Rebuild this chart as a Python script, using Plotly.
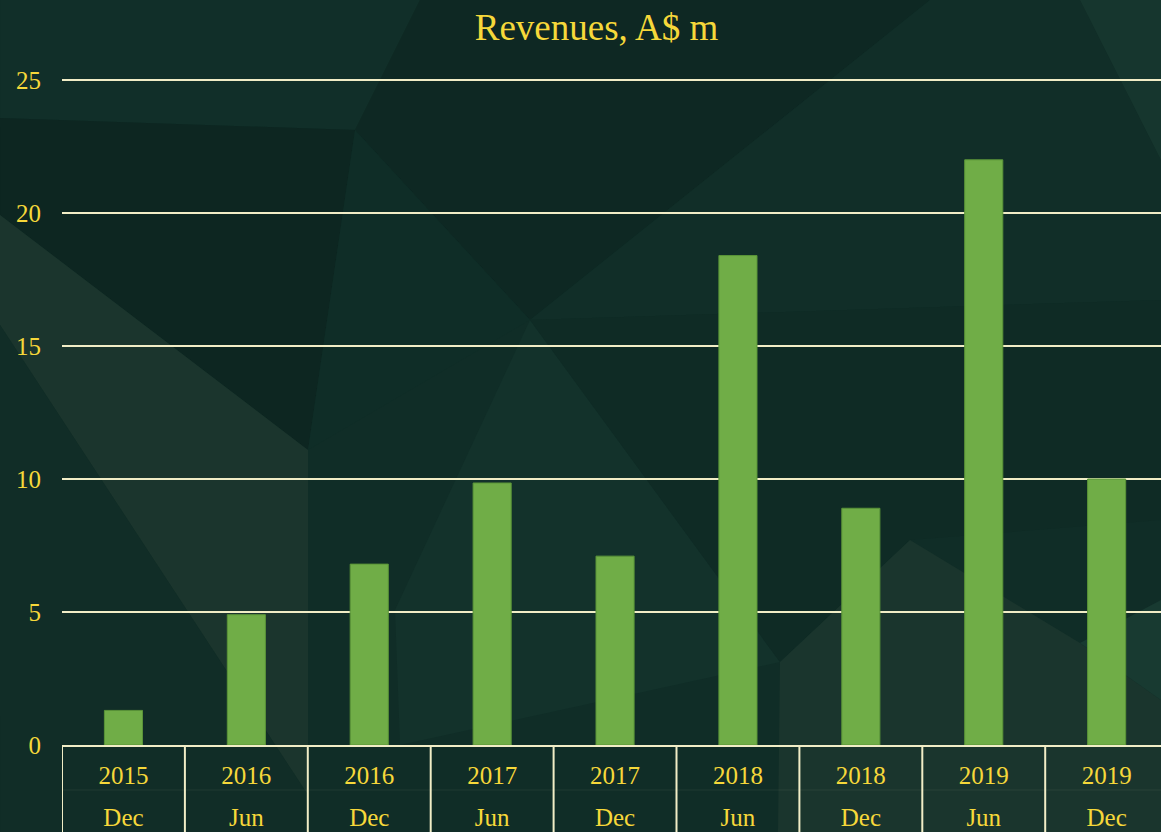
import plotly.graph_objects as go

# ---- data ----
years = ["2015", "2016", "2016", "2017", "2017", "2018", "2018", "2019", "2019"]
halves = ["Dec", "Jun", "Dec", "Jun", "Dec", "Jun", "Dec", "Jun", "Dec"]
revenues = [1.3, 4.9, 6.8, 9.85, 7.1, 18.4, 8.9, 22.0, 10.0]
y_ticks = [0, 5, 10, 15, 20, 25]
title_text = "Revenues, A$ m"
periods = [f"{h} {y}" for y, h in zip(years, halves)]

# ---- style ----
W, H = 1161, 832
PL, PR, PT, PB = 62, 1161, 75, 745      # plot-area pixel box
BASE = "#102D27"
GOLD = "#F6D83A"
CREAM = "#F1EDC6"
BAR = "#70AD47"
FONT = "Liberation Serif, DejaVu Serif, serif"

cat_w = 122.9
x_hi = -0.5 + (PR - PL) / cat_w
px_per_unit = 26.6
y_hi = (PB - PT) / px_per_unit


def to_paper(pts):
    return [((px - PL) / (PR - PL), (PB - py) / (PB - PT)) for px, py in pts]


def poly(pts, color):
    pp = to_paper(pts)
    path = "M " + " L ".join(f"{x:.5f},{y:.5f}" for x, y in pp) + " Z"
    return dict(type="path", path=path, xref="paper", yref="paper",
                fillcolor=color, line=dict(width=0), layer="below")


bg_polys = [
    ([(0, 0), (420, 0), (355, 130), (0, 118)], "#112F29"),
    ([(0, 118), (355, 130), (308, 450), (0, 215)], "#0D2621"),
    ([(420, 0), (930, 0), (530, 320), (355, 130)], "#0E2823"),
    ([(930, 0), (1080, 0), (1161, 160), (1161, 300), (530, 320)], "#112E28"),
    ([(0, 215), (308, 450), (308, 795), (0, 325)], "#1B352D"),
    ([(0, 325), (308, 795), (308, 832), (0, 832)], "#112D27"),
    ([(308, 450), (355, 130), (530, 320)], "#0F2D27"),
    ([(530, 320), (395, 610), (400, 745), (780, 662)], "#13322B"),
    ([(530, 320), (1161, 300), (1161, 520), (910, 540), (780, 662)], "#0F2B25"),
    ([(780, 662), (910, 540), (1080, 643), (1161, 700), (1161, 832), (778, 832)], "#1A352D"),
    ([(1080, 0), (1161, 0), (1161, 160)], "#16362E"),
    ([(1080, 643), (1161, 600), (1161, 700)], "#183A31"),
]
shapes = [poly(p, c) for p, c in bg_polys]

# category dividers in the label area
y_bottom = (PB - (H + 10)) / (PB - PT)
for k in range(len(periods) + 1):
    shapes.append(dict(type="line", xref="x", yref="paper",
                       x0=k - 0.5, x1=k - 0.5, y0=0, y1=y_bottom,
                       line=dict(color=CREAM, width=2), layer="above"))
# faint separator between label rows
sep_y = (PB - 790) / (PB - PT)
shapes.append(dict(type="line", xref="paper", yref="paper", x0=0, x1=1,
                   y0=sep_y, y1=sep_y,
                   line=dict(color="rgba(241,237,198,0.07)", width=1), layer="below"))

fig = go.Figure()
fig.add_trace(go.Bar(
    x=periods,
    y=revenues,
    marker=dict(color=BAR, line=dict(color="#5A9438", width=1)),
    hovertemplate="%{x}: %{y}<extra></extra>",
))
# invisible companion trace that carries the second (month) label row
fig.add_trace(go.Scatter(
    x=periods, y=revenues, xaxis="x2", mode="markers",
    marker=dict(opacity=0, size=1), hoverinfo="skip", showlegend=False,
))

fig.update_layout(
    width=W, height=H,
    margin=dict(l=PL, r=W - PR, t=PT, b=H - PB, pad=0),
    paper_bgcolor=BASE,
    plot_bgcolor="rgba(0,0,0,0)",
    showlegend=False,
    bargap=0.69,
    font=dict(family=FONT, color=GOLD, size=25),
    title=dict(text=title_text, x=596.5 / W, xref="container", xanchor="center",
               y=1 - 27 / H, yref="container", yanchor="middle",
               font=dict(family=FONT, size=37, color=GOLD), automargin=False),
    shapes=shapes,
    xaxis=dict(
        type="category", automargin=False,
        range=[-0.5, x_hi],
        tickvals=periods, ticktext=years,
        showline=True, linecolor=CREAM, linewidth=2,
        showgrid=False, ticks="",
        ticklabelstandoff=7,
        tickfont=dict(family=FONT, size=25, color=GOLD),
    ),
    xaxis2=dict(
        type="category", automargin=False,
        overlaying="x", anchor="y", side="bottom",
        range=[-0.5, x_hi],
        tickvals=periods, ticktext=halves,
        showline=False, showgrid=False, ticks="",
        ticklabelstandoff=55,
        tickfont=dict(family=FONT, size=25, color=GOLD),
    ),
    yaxis=dict(
        automargin=False,
        range=[0, y_hi],
        tickvals=y_ticks,
        showgrid=True, gridcolor=CREAM, gridwidth=2,
        zeroline=False, showline=False, ticks="",
        ticklabelstandoff=20,
        tickfont=dict(family=FONT, size=25, color=GOLD),
    ),
)

fig.write_html("out.html",
               config={"displayModeBar": False},
               post_script="document.body.style.margin='0';document.body.style.overflow='hidden';")
